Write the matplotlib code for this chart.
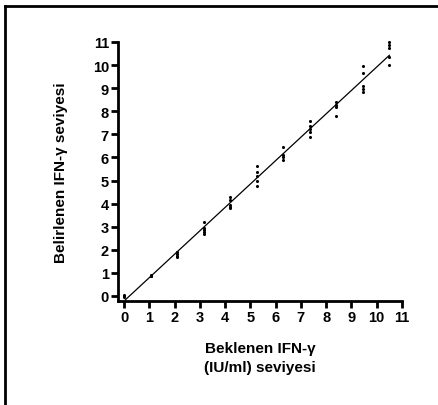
import numpy as np
import matplotlib.pyplot as plt
from matplotlib.lines import Line2D

plt.rcParams['font.family'] = ['Liberation Sans', 'DejaVu Sans']
plt.rcParams['font.weight'] = 'bold'

expected = [0, 1.05, 2.1, 3.15, 4.2, 5.25, 6.3, 7.35, 8.4, 9.45, 10.5]
measured = [
    [0.06, 0.0, -0.05],
    [0.87, 0.9, 0.85],
    [1.7, 1.8, 1.9, 1.75],
    [3.2, 2.95, 2.85, 2.75, 2.7],
    [4.3, 4.15, 3.95, 3.85, 3.8],
    [5.64, 5.36, 5.21, 4.99, 4.78],
    [6.44, 6.11, 6.01, 5.9],
    [7.59, 7.38, 7.23, 7.09, 6.87],
    [8.42, 8.27, 8.17, 7.78],
    [9.95, 9.66, 9.08, 8.96, 8.85],
    [11.01, 10.87, 10.73, 10.36, 10.02],
]
ticks = list(range(0, 12))

xs = np.concatenate([[e] * len(m) for e, m in zip(expected, measured)])
ys = np.concatenate(measured)

fig = plt.figure(figsize=(4.38, 4.06), dpi=100)
ax = fig.add_axes([118 / 438, 1 - 302 / 406, (402 - 118) / 438, (302 - 43) / 406])

ax.scatter(xs, ys, s=5, color='black', zorder=3, clip_on=False, linewidths=0)

# linear fit line
slope, icpt = np.polyfit(xs, ys, 1)
lx = np.array([0.05, 10.5])
ax.plot(lx, slope * lx + icpt, color='black', lw=0.9)

ax.set_xlim(-0.24, 11)
ax.set_ylim(-0.22, 11)
ax.set_xticks(ticks)
ax.set_yticks(ticks)
for s in ['top', 'right']:
    ax.spines[s].set_visible(False)
for s in ['left', 'bottom']:
    ax.spines[s].set_linewidth(2)
ax.tick_params(width=2, length=5, labelsize=10.5, pad=1.5)

ax.set_ylabel('Belirlenen IFN-γ seviyesi', fontsize=11, fontweight='bold', labelpad=18)
ax.set_xlabel('Beklenen IFN-γ\n(IU/ml) seviyesi', fontsize=11, fontweight='bold',
              labelpad=12, linespacing=1.5)

# outer frame (left and top edges only)
fig.add_artist(Line2D([5 / 438, 5 / 438], [0, 1 - 7 / 406], color='black', lw=2,
                      transform=fig.transFigure))
fig.add_artist(Line2D([5 / 438, 1], [1 - 7 / 406, 1 - 7 / 406], color='black', lw=2,
                      transform=fig.transFigure))

fig.savefig('out.png', dpi=100)
